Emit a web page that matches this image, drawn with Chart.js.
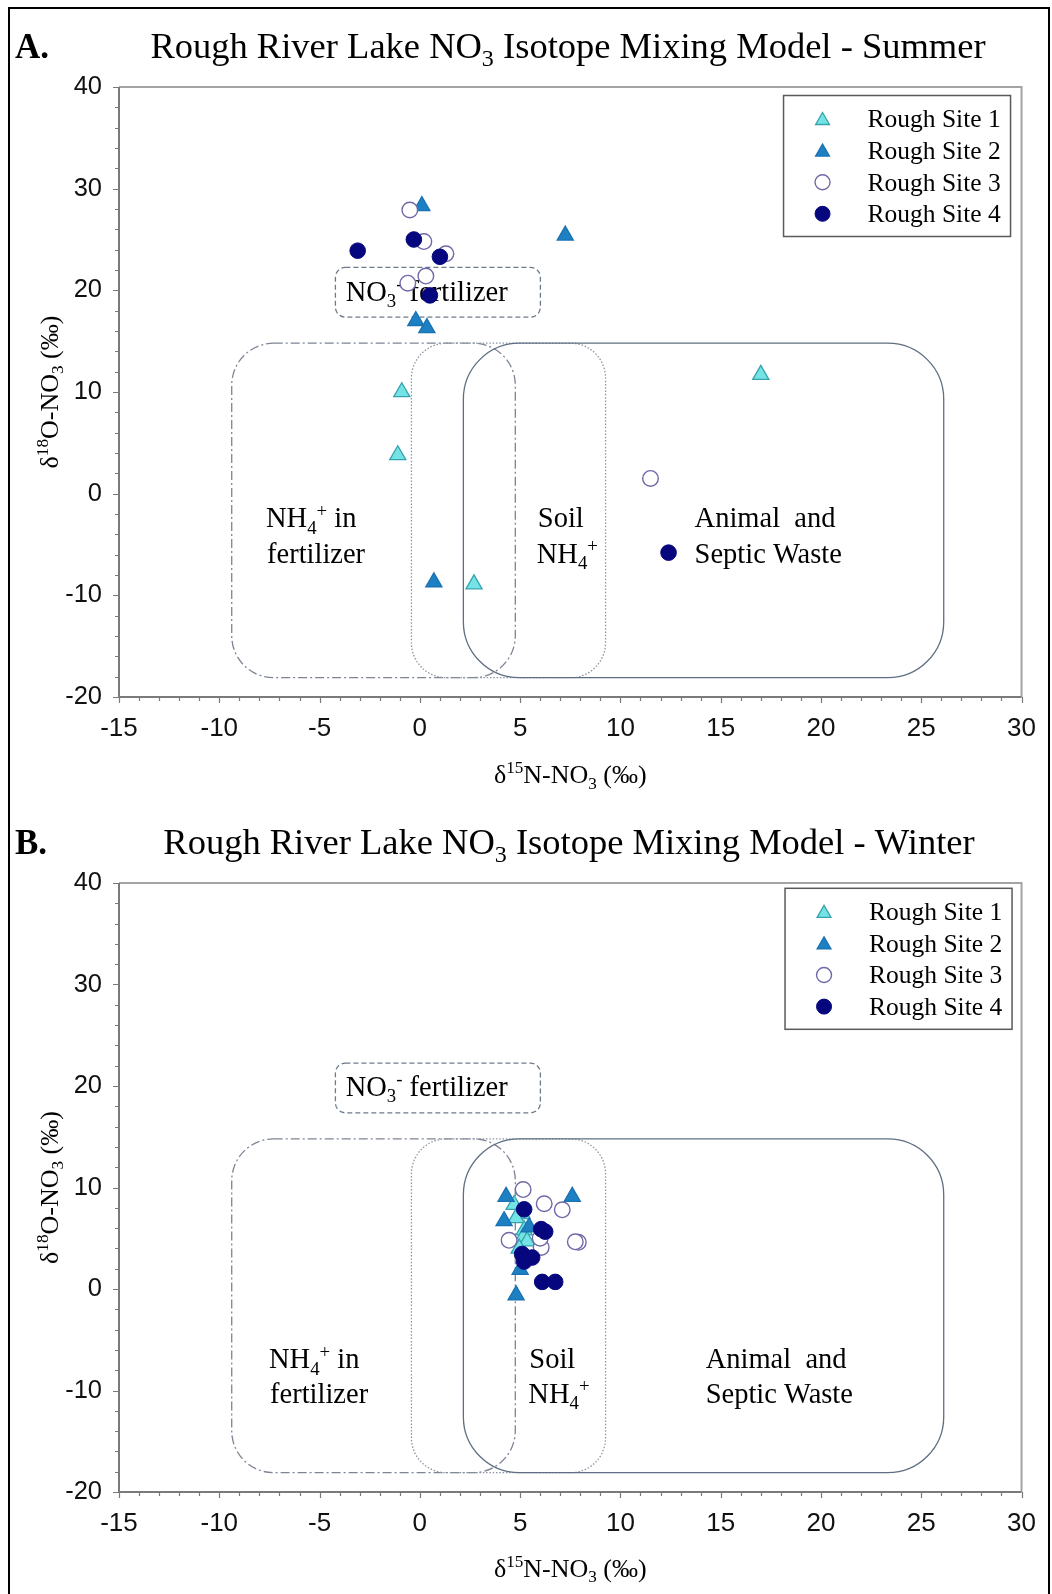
<!DOCTYPE html>
<html><head><meta charset="utf-8">
<script src="https://cdn.jsdelivr.net/npm/chart.js@4.4.1/dist/chart.umd.min.js"></script>
<style>
html,body{margin:0;padding:0;background:#fff;}
body{width:1052px;height:1594px;overflow:hidden;position:relative;}
#frame{position:absolute;left:8px;top:7px;width:1042px;height:1620px;border:2px solid #000;box-sizing:border-box;}
canvas{position:absolute;left:0;}
#c1{top:0;} #c2{top:790px;}
</style></head>
<body>
<div id="frame"></div>
<canvas id="c1" width="1052" height="790"></canvas>
<canvas id="c2" width="1052" height="804"></canvas>
<script>
// ---------- data ----------
const xTickLabels = [-15, -10, -5, 0, 5, 10, 15, 20, 25, 30];
const yTickLabels = [-20, -10, 0, 10, 20, 30, 40];
const siteNames = ['Rough Site 1', 'Rough Site 2', 'Rough Site 3', 'Rough Site 4'];

// Summer (d15N, d18O)
const summerSite1 = [[-0.9, 10.0], [-1.1, 3.8], [17.0, 11.7], [2.7, -8.9]];
const summerSite2 = [[0.1, 28.3], [7.25, 25.4], [-0.2, 17.0], [0.35, 16.3], [0.7, -8.7]];
const summerSite3 = [[-0.5, 27.9], [0.2, 24.8], [1.3, 23.6], [0.3, 21.4], [-0.6, 20.7], [11.5, 1.5]];
const summerSite4 = [[-3.1, 23.9], [-0.3, 25.0], [1.0, 23.3], [0.5, 19.5], [12.4, -5.8]];

// Winter (d15N, d18O)
const winterSite1 = [[4.7, 8.3], [5.1, 7.4], [4.8, 7.0], [5.2, 5.8], [5.15, 5.1], [5.35, 4.7], [4.95, 4.0]];
const winterSite2 = [[4.3, 9.1], [7.6, 9.1], [4.2, 6.7], [5.45, 6.1], [5.0, 1.9], [4.8, -0.6]];
const winterSite3 = [[5.15, 9.8], [6.2, 8.4], [7.1, 7.8], [4.45, 4.8], [7.9, 4.6], [7.75, 4.65], [6.05, 4.1], [6.0, 5.0]];
const winterSite4 = [[5.2, 7.85], [6.05, 5.9], [6.25, 5.65], [5.1, 3.45], [5.6, 3.1], [5.2, 2.7], [6.1, 0.7], [6.75, 0.7]];

// source regions (data units)
const sourceRegions = [
  { key: 'nh4fert', x0: -9.38, x1: 4.76, y0: -18.1, y1: 14.8 },
  { key: 'soil',    x0: -0.42, x1: 9.26, y0: -18.1, y1: 14.8 },
  { key: 'animal',  x0: 2.17,  x1: 26.12, y0: -18.1, y1: 14.8 },
  { key: 'no3fert', x0: -4.21, x1: 6.01, y0: 17.36, y1: 22.26 }
];

// ---------- styles ----------
const FONT_SERIF = '"Liberation Serif", "Times New Roman", serif';
const FONT_SANS = '"Liberation Sans", Arial, sans-serif';
const regionStyle = {
  nh4fert: { color: '#7d8494', dash: [9, 3, 2, 3], r: 42 },
  soil:    { color: '#8c95a2', dash: [1.5, 1.8], r: 35 },
  animal:  { color: '#5f6e82', dash: [], r: 56 },
  no3fert: { color: '#6d7a8a', dash: [5, 3], r: 10 }
};
const siteStyle = [
  { pointStyle: 'triangle', pointRadius: 9.3, backgroundColor: '#74e3e3', borderColor: '#35a3ae', borderWidth: 1.3 },
  { pointStyle: 'triangle', pointRadius: 9.3, backgroundColor: '#1d80c3', borderColor: '#1a72b2', borderWidth: 1.3 },
  { pointStyle: 'circle', pointRadius: 7.8, backgroundColor: '#ffffff', borderColor: '#6f6aa7', borderWidth: 1.4 },
  { pointStyle: 'circle', pointRadius: 7.8, backgroundColor: '#06067f', borderColor: '#06067f', borderWidth: 1 }
];

function drawRich(ctx, segs, x, yc, size, opt = {}) {
  const family = opt.family || FONT_SERIF, weight = opt.weight || 'normal';
  const align = opt.align || 'left', color = opt.color || '#000';
  const small = size * 0.66;
  const f = s => `${weight} ${s}px ${family}`;
  let w = 0; const parts = [];
  for (const [t, k] of segs) {
    ctx.font = f(k === 'n' ? size : small);
    const m = ctx.measureText(t).width; parts.push({ t, k, w: m }); w += m;
  }
  let cx = align === 'center' ? x - w / 2 : align === 'right' ? x - w : x;
  const base = yc + size * 0.33;
  ctx.fillStyle = color; ctx.textBaseline = 'alphabetic'; ctx.textAlign = 'left';
  for (const p of parts) {
    if (p.k === 'n') { ctx.font = f(size); ctx.fillText(p.t, cx, base); }
    else if (p.k === 'sub') { ctx.font = f(small); ctx.fillText(p.t, cx, base + size * 0.22); }
    else { ctx.font = f(small); ctx.fillText(p.t, cx, base - size * 0.38); }
    cx += p.w;
  }
}

function roundRect(ctx, x0, y0, x1, y1, r) {
  r = Math.min(r, (x1 - x0) / 2, (y1 - y0) / 2);
  ctx.beginPath();
  ctx.moveTo(x0 + r, y0);
  ctx.lineTo(x1 - r, y0); ctx.arcTo(x1, y0, x1, y0 + r, r);
  ctx.lineTo(x1, y1 - r); ctx.arcTo(x1, y1, x1 - r, y1, r);
  ctx.lineTo(x0 + r, y1); ctx.arcTo(x0, y1, x0, y1 - r, r);
  ctx.lineTo(x0, y0 + r); ctx.arcTo(x0, y0, x0 + r, y0, r);
  ctx.closePath();
}

const decor = {
  id: 'decor',
  beforeDatasetsDraw(chart) {
    const { ctx } = chart; const xs = chart.scales.x, ys = chart.scales.y;
    const cfg = chart.options.plugins.decor;
    ctx.save();
    for (const reg of sourceRegions) {
      const st = regionStyle[reg.key];
      ctx.strokeStyle = st.color; ctx.lineWidth = 1.3; ctx.setLineDash(st.dash);
      roundRect(ctx, xs.getPixelForValue(reg.x0), ys.getPixelForValue(reg.y1), xs.getPixelForValue(reg.x1), ys.getPixelForValue(reg.y0), st.r);
      ctx.stroke();
    }
    ctx.setLineDash([]);
    for (const lb of cfg.labels) {
      drawRich(ctx, lb.segs, xs.getPixelForValue(lb.x), ys.getPixelForValue(lb.y), lb.size || 28.5);
    }
    ctx.restore();
  },
  afterDraw(chart) {
    const { ctx, chartArea: a } = chart; const xs = chart.scales.x, ys = chart.scales.y;
    const cfg = chart.options.plugins.decor;
    ctx.save();
    // frame
    ctx.lineWidth = 2; ctx.setLineDash([]);
    ctx.strokeStyle = '#a4a4a4';
    ctx.beginPath(); ctx.moveTo(a.left, a.top); ctx.lineTo(a.right, a.top); ctx.lineTo(a.right, a.bottom); ctx.stroke();
    ctx.strokeStyle = '#7a7a7a';
    ctx.beginPath(); ctx.moveTo(a.left, a.top); ctx.lineTo(a.left, a.bottom); ctx.lineTo(a.right, a.bottom); ctx.stroke();
    // ticks
    ctx.lineWidth = 1.2; ctx.strokeStyle = '#7a7a7a';
    ctx.beginPath();
    for (let v = xs.min; v <= xs.max; v += 1) {
      const px = Math.round(xs.getPixelForValue(v)) + 0.5; const len = (v % 5 === 0) ? 6 : 4;
      ctx.moveTo(px, a.bottom); ctx.lineTo(px, a.bottom + len);
    }
    for (let v = ys.min; v <= ys.max; v += 2) {
      const py = Math.round(ys.getPixelForValue(v)) + 0.5; const len = (v % 10 === 0) ? 6 : 4;
      ctx.moveTo(a.left, py); ctx.lineTo(a.left - len, py);
    }
    ctx.stroke();
    // legend
    const L = { x: a.right - cfg.legend.dx, y: a.top + cfg.legend.dy, w: 227, h: 141 };
    ctx.fillStyle = '#fff'; ctx.fillRect(L.x, L.y, L.w, L.h);
    ctx.strokeStyle = '#5a5a5a'; ctx.lineWidth = 1.5; ctx.strokeRect(L.x, L.y, L.w, L.h);
    chart.data.datasets.forEach((ds, i) => {
      const yy = L.y + 23.5 + i * 31.6;
      ctx.fillStyle = ds.backgroundColor; ctx.strokeStyle = ds.borderColor; ctx.lineWidth = ds.borderWidth;
      Chart.helpers.drawPoint(ctx, { pointStyle: ds.pointStyle, radius: ds.pointStyle === 'triangle' ? 8 : 7.5, rotation: 0, borderWidth: ds.borderWidth }, L.x + 39, yy + (ds.pointStyle === 'triangle' ? 1.5 : 0));
      drawRich(ctx, [[ds.label, 'n']], L.x + 84, yy, 25.5);
    });
    // titles
    drawRich(ctx, [[cfg.letter, 'n']], 15, cfg.titleY, 35, { weight: 'bold' });
    drawRich(ctx, cfg.title, cfg.titleX, cfg.titleY, 36.5, { align: 'center' });
    drawRich(ctx, [['δ', 'n'], ['15', 'sup'], ['N-NO', 'n'], ['3', 'sub'], [' (‰)', 'n']], (a.left + a.right) / 2, a.bottom + cfg.xTitleDy, 26, { align: 'center' });
    ctx.translate(49, (a.top + a.bottom) / 2); ctx.rotate(-Math.PI / 2);
    drawRich(ctx, [['δ', 'n'], ['18', 'sup'], ['O-NO', 'n'], ['3', 'sub'], [' (‰)', 'n']], 0, 0, 26, { align: 'center' });
    ctx.restore();
  }
};

const NH4in = [['NH', 'n'], ['4', 'sub'], ['+', 'sup'], [' in', 'n']];
const NH4 = [['NH', 'n'], ['4', 'sub'], ['+', 'sup']];
const NO3f = [['NO', 'n'], ['3', 'sub'], ['-', 'sup'], [' fertilizer', 'n']];

function makeChart(id, series, opts) {
  const datasets = siteNames.map((name, i) => Object.assign({
    label: name,
    data: series[i].map(([x, y]) => ({ x, y })),
    order: 4 - i
  }, siteStyle[i]));
  return new Chart(document.getElementById(id), {
    type: 'scatter',
    data: { datasets },
    options: {
      responsive: false, animation: false, devicePixelRatio: 1,
      layout: { padding: { top: opts.padTop, right: 30, left: 0, bottom: 0 } },
      plugins: { legend: { display: false }, tooltip: { enabled: false }, decor: opts.decor },
      elements: { point: { hoverRadius: 8 } },
      scales: {
        x: {
          type: 'linear', min: xTickLabels[0], max: xTickLabels[xTickLabels.length - 1],
          afterBuildTicks: s => { s.ticks = xTickLabels.map(v => ({ value: v })); },
          afterFit: s => { s.height = opts.xHeight; },
          grid: { display: false, drawTicks: false }, border: { display: false },
          ticks: { color: '#111', font: { family: FONT_SANS, size: 26 }, padding: 16, autoSkip: false, maxRotation: 0 }
        },
        y: {
          type: 'linear', min: yTickLabels[0], max: yTickLabels[yTickLabels.length - 1],
          afterBuildTicks: s => { s.ticks = yTickLabels.map(v => ({ value: v })); },
          afterFit: s => { s.width = 119; },
          grid: { display: false, drawTicks: false }, border: { display: false },
          ticks: { color: '#111', font: { family: FONT_SANS, size: 25.5 }, padding: 17, autoSkip: false }
        }
      }
    },
    plugins: [decor]
  });
}

makeChart('c1', [summerSite1, summerSite2, summerSite3, summerSite4], {
  padTop: 87, xHeight: 93,
  decor: {
    letter: 'A.', titleX: 568, titleY: 46, xTitleDy: 77.5,
    title: [['Rough River Lake NO', 'n'], ['3', 'sub'], [' Isotope Mixing Model - Summer', 'n']],
    legend: { dx: 238, dy: 8.5 },
    labels: [
      { segs: NH4in, x: -7.67, y: -2.4 }, { segs: [['fertilizer', 'n']], x: -7.62, y: -5.9 },
      { segs: [['Soil', 'n']], x: 5.88, y: -2.4 }, { segs: NH4, x: 5.83, y: -5.9 },
      { segs: [['Animal  and', 'n']], x: 13.7, y: -2.4 }, { segs: [['Septic Waste', 'n']], x: 13.7, y: -5.9 },
      { segs: NO3f, x: -3.7, y: 19.86 }
    ]
  }
});

makeChart('c2', [winterSite1, winterSite2, winterSite3, winterSite4], {
  padTop: 93, xHeight: 102,
  decor: {
    letter: 'B.', titleX: 569, titleY: 52, xTitleDy: 76,
    title: [['Rough River Lake NO', 'n'], ['3', 'sub'], [' Isotope Mixing Model - Winter', 'n']],
    legend: { dx: 236.5, dy: 5.3 },
    labels: [
      { segs: NH4in, x: -7.52, y: -6.9 }, { segs: [['fertilizer', 'n']], x: -7.47, y: -10.3 },
      { segs: [['Soil', 'n']], x: 5.46, y: -6.9 }, { segs: NH4, x: 5.41, y: -10.3 },
      { segs: [['Animal  and', 'n']], x: 14.25, y: -6.9 }, { segs: [['Septic Waste', 'n']], x: 14.25, y: -10.3 },
      { segs: NO3f, x: -3.7, y: 19.95 }
    ]
  }
});
</script>
</body></html>
